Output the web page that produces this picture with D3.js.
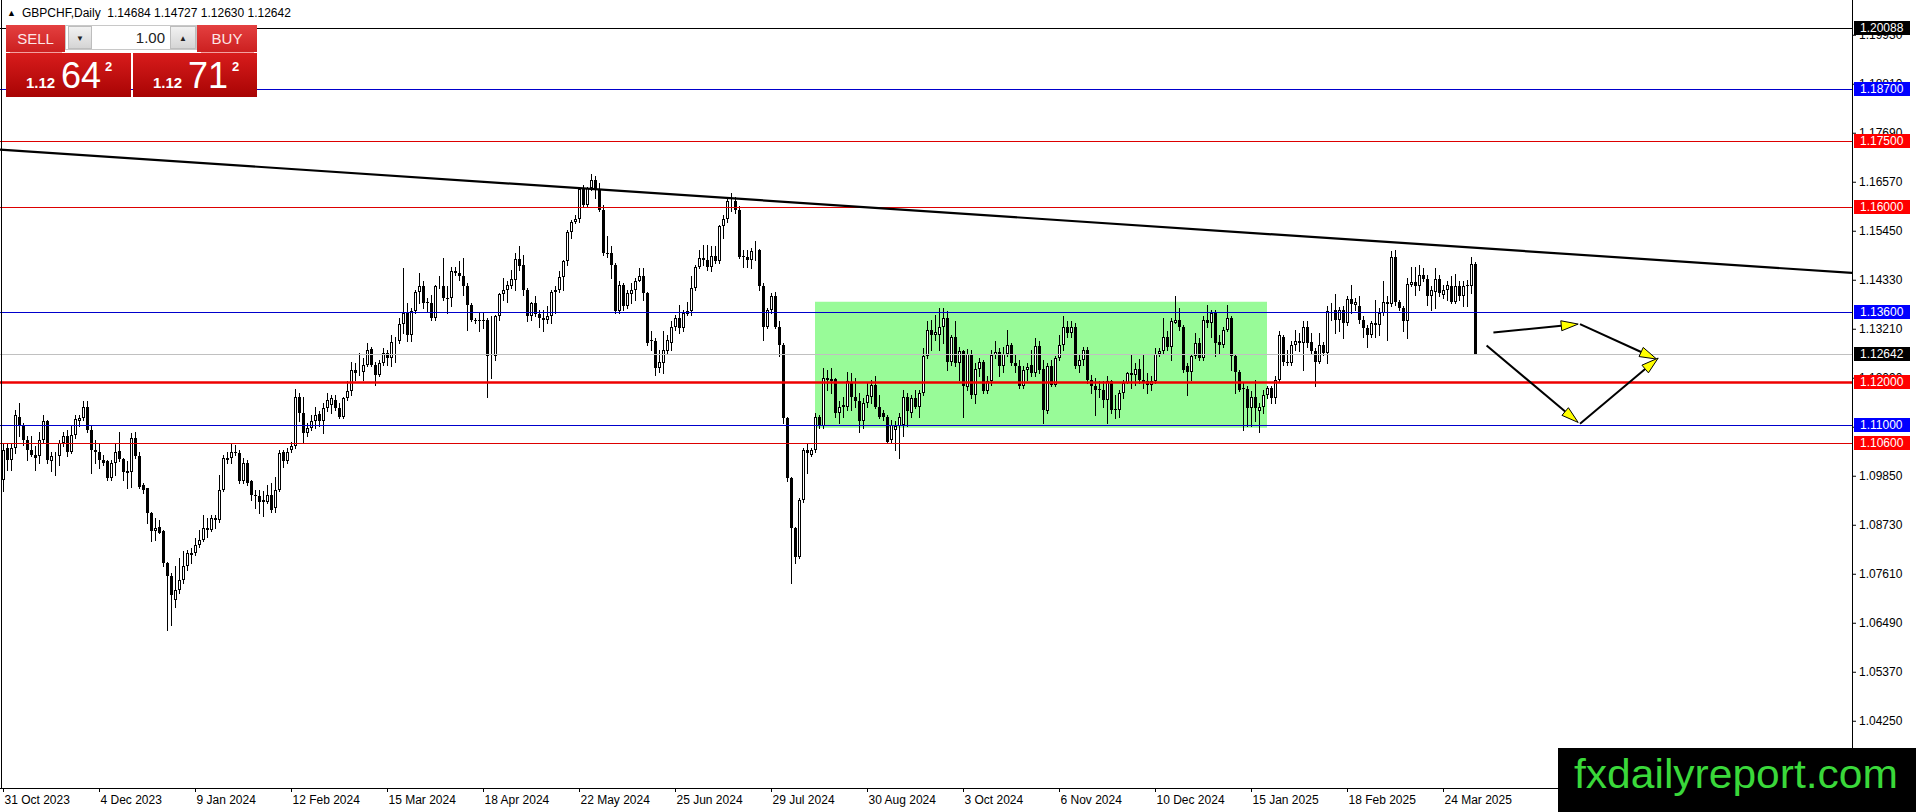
<!DOCTYPE html>
<html>
<head>
<meta charset="utf-8">
<script src="https://cdn.jsdelivr.net/npm/d3@7"></script>
<style>
  body { margin: 0; background: #fff; overflow: hidden; }
  svg { display: block; font-family: "Liberation Sans", Arial, sans-serif; }
</style>
</head>
<body>
<script>
// GBPCHF daily bars, 31 Oct 2023 .. 3 Apr 2025, prices in pips (1e-4)
var openPips = [
  10976,11048,11021,11048,11120,11098,11067,11044,11033,11029,11067,11109,
  11018,11029,11029,11060,11076,11040,11079,11111,11117,11143,11090,11044,
  11040,11021,11018,10980,11014,11042,11023,10995,10993,11071,11031,10964,
  10956,10899,10858,10869,10858,10785,10755,10701,10724,10747,10778,10804,
  10808,10827,10838,10861,10861,10883,10884,10953,11021,11025,11040,11037,
  10972,11014,10972,10941,10938,10926,10926,10941,10911,10953,11040,11018,
  11044,11052,11166,11128,11082,11094,11109,11126,11109,11140,11147,11159,
  11140,11120,11162,11178,11227,11220,11223,11239,11275,11239,11216,11242,
  11265,11254,11290,11292,11332,11357,11307,11361,11406,11418,11381,11380,
  11345,11418,11419,11391,11391,11452,11448,11442,11419,11376,11341,11341,
  11341,11341,11258,11259,11349,11401,11409,11419,11433,11480,11467,11410,
  11349,11380,11355,11345,11341,11349,11404,11409,11439,11475,11543,11566,
  11572,11640,11604,11642,11660,11640,11593,11495,11494,11467,11361,11422,
  11372,11401,11410,11431,11441,11402,11296,11294,11231,11242,11269,11288,
  11324,11345,11322,11355,11361,11414,11462,11482,11479,11462,11488,11475,
  11555,11572,11610,11612,11593,11488,11486,11479,11498,11500,11418,11326,
  11364,11395,11326,11284,11117,10980,10865,10800,10930,11044,11033,11044,
  11120,11098,11208,11201,11206,11128,11143,11143,11197,11166,11155,11109,
  11151,11166,11193,11143,11128,11120,11067,11090,11098,11101,11166,11128,
  11162,11143,11175,11258,11319,11307,11307,11326,11345,11246,11303,11242,
  11269,11188,11264,11170,11229,11246,11178,11201,11262,11267,11235,11264,
  11284,11242,11235,11189,11226,11239,11220,11282,11229,11134,11236,11193,
  11254,11284,11326,11311,11326,11235,11249,11273,11204,11189,11183,11180,
  11159,11201,11137,11136,11175,11198,11220,11216,11229,11204,11201,11193,
  11201,11264,11269,11303,11280,11335,11340,11326,11235,11223,11258,11288,
  11254,11341,11334,11357,11290,11284,11319,11345,11258,11223,11185,11183,
  11140,11166,11132,11143,11170,11185,11162,11204,11303,11246,11242,11284,
  11292,11288,11326,11290,11269,11246,11284,11265,11361,11364,11341,11363,
  11334,11389,11376,11372,11341,11322,11307,11334,11330,11357,11383,11378,
  11485,11383,11368,11338,11422,11427,11418,11444,11434,11395,11406,11434,
  11399,11410,11419,11383,11418,11395,11422,11418,11468.4
];
var highPips = [
  11060,11060,11060,11136,11151,11105,11075,11075,11052,11086,11124,11113,
  11040,11040,11067,11086,11090,11098,11124,11124,11155,11155,11098,11067,
  11060,11033,11021,11021,11060,11086,11025,11018,11082,11084,11040,10968,
  10958,10903,10888,10884,10861,10789,10762,10778,10797,10812,10816,10819,
  10842,10861,10896,10888,10896,10896,10987,11033,11040,11060,11056,11044,
  11025,11021,10976,10953,10953,10949,10964,10968,10983,11044,11044,11048,
  11063,11183,11174,11166,11105,11124,11143,11132,11151,11174,11170,11170,
  11151,11166,11201,11246,11242,11265,11254,11288,11280,11246,11250,11277,
  11273,11307,11303,11345,11460,11380,11368,11410,11448,11429,11391,11399,
  11422,11441,11482,11418,11463,11463,11475,11482,11425,11380,11345,11357,
  11357,11345,11349,11353,11402,11437,11429,11456,11494,11509,11490,11414,
  11383,11395,11364,11364,11372,11410,11418,11452,11479,11547,11570,11582,
  11646,11650,11646,11675,11669,11654,11604,11532,11509,11471,11429,11425,
  11410,11425,11437,11460,11460,11406,11315,11300,11273,11315,11307,11338,
  11353,11376,11364,11383,11441,11467,11501,11513,11513,11509,11509,11559,
  11582,11623,11631,11623,11601,11501,11501,11505,11521,11503,11425,11368,
  11402,11406,11338,11288,11120,10983,10869,10934,11048,11060,11048,11128,
  11124,11231,11227,11231,11208,11155,11166,11223,11220,11208,11174,11162,
  11197,11204,11212,11170,11136,11124,11113,11109,11128,11181,11174,11170,
  11181,11181,11277,11338,11341,11353,11368,11368,11361,11307,11338,11280,
  11273,11274,11273,11242,11254,11250,11212,11273,11292,11277,11280,11319,
  11288,11262,11250,11235,11242,11273,11300,11292,11250,11242,11250,11258,
  11307,11349,11338,11338,11335,11262,11280,11280,11216,11208,11201,11201,
  11212,11204,11170,11181,11204,11223,11262,11242,11252,11262,11220,11212,
  11277,11277,11345,11315,11345,11395,11368,11330,11242,11262,11311,11300,
  11349,11376,11364,11364,11307,11326,11376,11349,11262,11227,11197,11189,
  11178,11204,11151,11181,11189,11189,11212,11315,11307,11273,11292,11319,
  11311,11338,11338,11311,11277,11311,11290,11372,11380,11401,11370,11372,
  11395,11422,11391,11395,11349,11330,11338,11387,11368,11429,11395,11498,
  11501,11387,11372,11437,11463,11463,11467,11460,11444,11418,11460,11444,
  11422,11429,11441,11447,11429,11429,11433,11485,11472.7
];
var lowPips = [
  10949,10999,10999,11037,11075,11056,11021,11029,10999,11014,11060,11014,
  10995,10987,11010,11052,11029,11037,11071,11098,11113,11086,10991,11014,
  11002,11010,10976,10976,10987,11018,10976,10956,10960,11025,10956,10945,
  10877,10835,10838,10854,10778,10633,10644,10686,10717,10739,10770,10785,
  10804,10823,10835,10846,10858,10865,10880,10949,11014,11014,11033,10968,
  10968,10964,10930,10911,10899,10892,10922,10903,10903,10949,11006,11014,
  11040,11048,11109,11060,11075,11090,11094,11098,11082,11132,11128,11136,
  11117,11117,11159,11170,11204,11216,11204,11235,11235,11193,11212,11239,
  11239,11235,11246,11288,11311,11292,11292,11357,11380,11368,11361,11341,
  11341,11414,11387,11357,11372,11444,11433,11399,11319,11338,11334,11315,
  11322,11166,11208,11250,11341,11387,11383,11414,11410,11456,11399,11338,
  11341,11349,11326,11315,11334,11334,11357,11406,11410,11467,11528,11562,
  11566,11601,11601,11639,11620,11589,11490,11486,11437,11357,11357,11364,
  11368,11380,11387,11429,11387,11284,11273,11216,11223,11220,11265,11273,
  11319,11311,11315,11353,11353,11410,11460,11467,11456,11452,11471,11471,
  11528,11566,11589,11585,11482,11463,11463,11460,11479,11410,11296,11322,
  11357,11322,11258,11105,10972,10739,10785,10797,10926,10991,11029,11040,
  11094,11094,11181,11174,11120,11105,11120,11136,11136,11143,11086,11094,
  11143,11151,11140,11117,11113,11060,11060,11044,11025,11075,11098,11120,
  11140,11120,11170,11254,11273,11296,11273,11288,11227,11239,11235,11204,
  11120,11181,11162,11151,11212,11174,11174,11193,11254,11212,11223,11258,
  11239,11223,11185,11185,11204,11212,11212,11220,11105,11128,11189,11189,
  11250,11273,11303,11303,11231,11223,11239,11197,11174,11124,11166,11143,
  11105,11128,11117,11120,11162,11197,11185,11193,11197,11185,11174,11181,
  11197,11258,11265,11273,11250,11334,11319,11223,11170,11204,11254,11250,
  11250,11326,11303,11258,11265,11280,11315,11227,11174,11178,11090,11098,
  11098,11109,11086,11128,11162,11151,11151,11201,11239,11239,11239,11273,
  11269,11227,11280,11265,11189,11242,11262,11242,11341,11311,11315,11300,
  11330,11357,11364,11334,11303,11280,11303,11303,11307,11353,11296,11372,
  11376,11364,11315,11300,11418,11399,11410,11429,11376,11364,11368,11395,
  11391,11387,11380,11380,11387,11372,11372,11402,11263.0
];
var closePips = [
  11044,11021,11048,11124,11098,11067,11044,11033,11025,11067,11109,11021,
  11029,11031,11060,11075,11040,11079,11114,11117,11143,11090,11044,11040,
  11021,11014,10980,11014,11040,11023,10993,10991,11071,11029,10960,10953,
  10899,10858,10865,10855,10785,10755,10713,10724,10747,10778,10808,10808,
  10827,10838,10865,10865,10888,10888,10953,11025,11025,11040,11037,10972,
  11014,10968,10941,10938,10926,10930,10941,10907,10953,11037,11018,11040,
  11053,11166,11128,11082,11094,11109,11124,11109,11140,11159,11162,11140,
  11120,11162,11178,11227,11220,11223,11239,11273,11239,11216,11242,11265,
  11254,11290,11292,11332,11357,11307,11362,11406,11418,11380,11380,11345,
  11418,11419,11391,11389,11452,11448,11442,11419,11376,11340,11338,11339,
  11339,11258,11259,11349,11401,11410,11422,11434,11480,11465,11410,11349,
  11380,11355,11345,11341,11349,11404,11409,11439,11475,11543,11566,11572,
  11640,11604,11642,11660,11640,11593,11494,11492,11467,11361,11422,11372,
  11402,11410,11431,11441,11402,11288,11294,11231,11246,11273,11296,11324,
  11345,11322,11357,11361,11414,11463,11482,11479,11462,11488,11475,11555,
  11572,11612,11612,11593,11486,11485,11479,11498,11500,11418,11326,11364,
  11395,11326,11284,11117,10980,10865,10800,10930,11044,11037,11044,11120,
  11098,11208,11204,11206,11128,11143,11147,11201,11166,11155,11109,11151,
  11170,11193,11143,11120,11120,11063,11101,11098,11120,11166,11132,11162,
  11143,11175,11258,11319,11307,11313,11326,11345,11246,11303,11242,11269,
  11189,11264,11170,11229,11246,11178,11201,11262,11267,11235,11264,11284,
  11242,11235,11189,11227,11233,11220,11282,11227,11136,11236,11193,11254,
  11284,11326,11311,11326,11235,11249,11273,11204,11189,11181,11180,11159,
  11201,11136,11136,11175,11198,11220,11216,11229,11204,11197,11193,11201,
  11264,11269,11303,11280,11338,11340,11326,11227,11223,11258,11288,11254,
  11341,11334,11357,11288,11284,11319,11345,11258,11223,11181,11183,11140,
  11166,11140,11143,11170,11185,11162,11204,11307,11246,11242,11284,11292,
  11288,11326,11288,11269,11246,11284,11265,11361,11364,11341,11363,11334,
  11389,11378,11381,11341,11322,11307,11334,11330,11357,11383,11378,11485,
  11381,11368,11338,11424,11427,11418,11444,11434,11395,11409,11434,11402,
  11410,11422,11383,11419,11395,11419,11418,11470,11264.2
];

var open = openPips.map(function(v) { return v / 1e4; });
var high = highPips.map(function(v) { return v / 1e4; });
var low = lowPips.map(function(v) { return v / 1e4; });
var close = closePips.map(function(v) { return v / 1e4; });

// one date label every 24 bars
var dateLabels = ["31 Oct 2023", "4 Dec 2023", "9 Jan 2024", "12 Feb 2024", "15 Mar 2024",
  "18 Apr 2024", "22 May 2024", "25 Jun 2024", "29 Jul 2024", "30 Aug 2024", "3 Oct 2024",
  "6 Nov 2024", "10 Dec 2024", "15 Jan 2025", "18 Feb 2025", "24 Mar 2025"];
var barsPerLabel = 24;

var priceTicks = [1.04250, 1.05370, 1.06490, 1.07610, 1.08730, 1.09850, 1.10970, 1.12090,
  1.13210, 1.14330, 1.15450, 1.16570, 1.17690, 1.18810, 1.19930];
var priceMin = 1.02713, priceMax = 1.20724;   // visible price window

// horizontal levels drawn on the chart
var levelPrices = [1.20088, 1.18700, 1.17500, 1.16000, 1.13600, 1.12642, 1.12000, 1.11000, 1.10600];
var levelKinds = ["mark", "blue", "red", "red", "blue", "bid", "redBold", "blue", "red"];

// falling trendline, two anchors (bar index, price)
var trendBars = [0, 368];
var trendPrices = [1.1730, 1.1506];

// green range box
var zoneBars = [203, 316];
var zonePrices = [1.13827, 1.10947];

// projected path arrows (bar index, price)
var arrowFrom = [[372.6, 1.13125], [394.25, 1.13317], [370.9, 1.12828], [394.25, 1.11039]];
var arrowTo = [[393.8, 1.13317], [413.4, 1.12517], [393.8, 1.11068], [413.8, 1.12540]];

var symbol = "GBPCHF,Daily";
var askPrice = 1.12712;
var lotSize = "1.00";
var watermark = "fxdailyreport.com";

// ---------------------------------------------------------------
var W = 1916, H = 812;
var plotRight = 1852, plotBottom = 788;
var n = close.length;

var svg = d3.select("body").append("svg")
    .attr("width", W)
    .attr("height", H);

var defs = svg.append("defs");
defs.append("clipPath").attr("id", "plotClip")
  .append("rect").attr("x", 0).attr("y", 0).attr("width", plotRight).attr("height", plotBottom);

var g1 = defs.append("linearGradient").attr("id", "redBox").attr("x1", 0).attr("y1", 0).attr("x2", 0).attr("y2", 1);
g1.append("stop").attr("offset", "0%").attr("stop-color", "#d81c1c");
g1.append("stop").attr("offset", "100%").attr("stop-color", "#a80404");
var g2 = defs.append("linearGradient").attr("id", "redHead").attr("x1", 0).attr("y1", 0).attr("x2", 0).attr("y2", 1);
g2.append("stop").attr("offset", "0%").attr("stop-color", "#e44040");
g2.append("stop").attr("offset", "100%").attr("stop-color", "#cc2020");
var g3 = defs.append("linearGradient").attr("id", "greyBtn").attr("x1", 0).attr("y1", 0).attr("x2", 0).attr("y2", 1);
g3.append("stop").attr("offset", "0%").attr("stop-color", "#f2f2f2");
g3.append("stop").attr("offset", "100%").attr("stop-color", "#d4d4d4");

// scales: 4 px per bar, first bar at x = 3
var x = d3.scaleLinear().domain([0, n - 1]).range([3, 3 + 4 * (n - 1)]);
var y = d3.scaleLinear().domain([priceMin, priceMax]).range([plotBottom, 0]);

var plot = svg.append("g").attr("clip-path", "url(#plotClip)");

// range box (background)
plot.append("rect")
    .attr("x", x(zoneBars[0]))
    .attr("y", y(zonePrices[0]))
    .attr("width", x(zoneBars[1]) - x(zoneBars[0]))
    .attr("height", y(zonePrices[1]) - y(zonePrices[0]))
    .attr("fill", "#98fb98");

// candles
var bars = d3.range(n).map(function(i) {
  return { i: i, o: open[i], h: Math.max(high[i], open[i], close[i]),
           l: Math.min(low[i], open[i], close[i]), c: close[i] };
});

var candles = plot.append("g").attr("shape-rendering", "crispEdges");
candles.selectAll("line")
  .data(bars)
  .join("line")
    .attr("x1", function(d) { return Math.round(x(d.i)) + 0.5; })
    .attr("x2", function(d) { return Math.round(x(d.i)) + 0.5; })
    .attr("y1", function(d) { return Math.round(y(d.h)); })
    .attr("y2", function(d) { return Math.round(y(d.l)) + 1; })
    .attr("stroke", "#000")
    .attr("stroke-width", 1);

candles.selectAll("rect.down")
  .data(bars.filter(function(d) { return d.c < d.o; }))
  .join("rect")
    .attr("class", "down")
    .attr("x", function(d) { return Math.round(x(d.i)) - 1; })
    .attr("y", function(d) { return Math.round(y(d.o)); })
    .attr("width", 3)
    .attr("height", function(d) { return Math.max(1, Math.round(y(d.c)) - Math.round(y(d.o))); })
    .attr("fill", "#000");

candles.selectAll("rect.up")
  .data(bars.filter(function(d) { return d.c >= d.o; }))
  .join("rect")
    .attr("class", "up")
    .attr("x", function(d) { return Math.round(x(d.i)) - 0.5; })
    .attr("y", function(d) { return Math.round(y(d.c)) + 0.5; })
    .attr("width", 2)
    .attr("height", function(d) { return Math.max(0, Math.round(y(d.o)) - Math.round(y(d.c)) - 1); })
    .attr("fill", "#fff")
    .attr("stroke", "#000")
    .attr("stroke-width", 1);

// horizontal levels
var lineColor = { mark: "#000", blue: "#0000cc", red: "#dd0000", redBold: "#ee0000", bid: "#c0c0c0" };
var boxColor = { mark: "#000", blue: "#0000ff", red: "#ff0000", redBold: "#ff0000", bid: "#000" };
var levels = levelPrices.map(function(p, i) { return { p: p, kind: levelKinds[i] }; });

plot.selectAll("line.level")
  .data(levels)
  .join("line")
    .attr("class", "level")
    .attr("x1", 0)
    .attr("x2", plotRight)
    .attr("y1", function(d) { return Math.round(y(d.p)) + 0.5; })
    .attr("y2", function(d) { return Math.round(y(d.p)) + 0.5; })
    .attr("stroke", function(d) { return lineColor[d.kind]; })
    .attr("stroke-width", function(d) { return d.kind === "redBold" ? 2.5 : 1; });

// trendline, extended across the plot
var slope = (trendPrices[1] - trendPrices[0]) / (trendBars[1] - trendBars[0]);
var bL = x.invert(0), bR = x.invert(plotRight);
plot.append("line")
    .attr("x1", x(bL))
    .attr("y1", y(trendPrices[0] + (bL - trendBars[0]) * slope))
    .attr("x2", x(bR))
    .attr("y2", y(trendPrices[0] + (bR - trendBars[0]) * slope))
    .attr("stroke", "#000")
    .attr("stroke-width", 2.2);

// arrows
var arrows = arrowFrom.map(function(a, i) { return { from: a, to: arrowTo[i] }; });
var headLen = 17, headHalf = 5;
arrows.forEach(function(a) {
  var x0 = x(a.from[0]), y0 = y(a.from[1]);
  var x1 = x(a.to[0]), y1 = y(a.to[1]);
  var len = Math.hypot(x1 - x0, y1 - y0);
  var ux = (x1 - x0) / len, uy = (y1 - y0) / len;
  var bx = x1 - ux * headLen, by = y1 - uy * headLen;
  plot.append("line")
      .attr("x1", x0).attr("y1", y0)
      .attr("x2", bx).attr("y2", by)
      .attr("stroke", "#000")
      .attr("stroke-width", 2);
  plot.append("path")
      .attr("d", "M" + x1 + "," + y1 +
                 "L" + (bx - uy * headHalf) + "," + (by + ux * headHalf) +
                 "L" + (bx + uy * headHalf) + "," + (by - ux * headHalf) + "Z")
      .attr("fill", "#ffff00")
      .attr("stroke", "#000")
      .attr("stroke-width", 1);
});

// frame and axes
svg.append("line")
    .attr("x1", 1.5).attr("x2", 1.5).attr("y1", 0).attr("y2", plotBottom)
    .attr("stroke", "#000");

var yAxis = d3.axisRight(y)
    .tickValues(priceTicks)
    .tickSize(4)
    .tickSizeOuter(0)
    .tickFormat(d3.format(".5f"));

var yAxisG = svg.append("g")
    .attr("transform", "translate(" + plotRight + ",0)")
    .call(yAxis)
    .attr("font-family", null)
    .attr("font-size", 12);
yAxisG.select(".domain").attr("d", "M0.5,0V" + plotBottom);
yAxisG.selectAll("text").attr("x", 7).attr("fill", "#000");

var xAxis = d3.axisBottom(x)
    .tickValues(dateLabels.map(function(d, i) { return i * barsPerLabel; }))
    .tickSize(4)
    .tickFormat(function(d, i) { return dateLabels[i]; });

var xAxisG = svg.append("g")
    .attr("transform", "translate(0," + plotBottom + ")")
    .call(xAxis)
    .attr("font-family", null)
    .attr("font-size", 12);
xAxisG.select(".domain").remove();
xAxisG.selectAll("text").attr("text-anchor", "start").attr("x", 1).attr("fill", "#000");
svg.append("line")
    .attr("x1", 0).attr("x2", plotRight + 1)
    .attr("y1", plotBottom + 0.5).attr("y2", plotBottom + 0.5)
    .attr("stroke", "#000");

// price labels for the levels
var tags = svg.append("g").selectAll("g")
  .data(levels)
  .join("g")
    .attr("transform", function(d) { return "translate(" + (plotRight + 2) + "," + Math.round(y(d.p)) + ")"; });
tags.append("rect")
    .attr("x", 0).attr("y", -7)
    .attr("width", 56).attr("height", 14)
    .attr("fill", function(d) { return boxColor[d.kind]; });
tags.append("text")
    .attr("x", 6).attr("dy", "0.36em")
    .attr("font-size", 12)
    .attr("fill", "#fff")
    .text(function(d) { return d3.format(".5f")(d.p); });

// title
var last = n - 1;
svg.append("text")
    .attr("x", 7).attr("y", 16)
    .attr("font-size", 9)
    .text("\u25B2");
svg.append("text")
    .attr("x", 22).attr("y", 17)
    .attr("font-size", 12)
    .style("white-space", "pre")
    .text(symbol + "  " + [open[last], high[last], low[last], close[last]].map(d3.format(".5f")).join(" "));

// one-click trading panel
var panel = svg.append("g");
var bid = close[last];
function quoteParts(v) {
  var s = v.toFixed(5);
  return [s.slice(0, 4), s.slice(4, 6), s.slice(6)];
}
[{ x: 6, w: 125, label: "SELL", hx: 6, hw: 59, q: quoteParts(bid) },
 { x: 133, w: 124, label: "BUY", hx: 197, hw: 60, q: quoteParts(askPrice) }].forEach(function(b) {
  panel.append("rect").attr("x", b.hx).attr("y", 25).attr("width", b.hw).attr("height", 27)
      .attr("fill", "url(#redHead)");
  panel.append("line").attr("x1", b.hx + 4).attr("x2", b.hx + b.hw - 3).attr("y1", 52.5).attr("y2", 52.5)
      .attr("stroke", "#f3a0a0");
  panel.append("text").attr("x", b.hx + b.hw / 2).attr("y", 44).attr("text-anchor", "middle")
      .attr("font-size", 15).attr("fill", "#fde6e6").text(b.label);
  panel.append("rect").attr("x", b.x).attr("y", 53).attr("width", b.w).attr("height", 44)
      .attr("fill", "url(#redBox)");
  panel.append("text").attr("x", b.x + 20).attr("y", 88)
      .attr("font-size", 15).attr("font-weight", "bold").attr("fill", "#fff").text(b.q[0]);
  panel.append("text").attr("x", b.x + 55).attr("y", 88)
      .attr("font-size", 36).attr("fill", "#fff").text(b.q[1]);
  panel.append("text").attr("x", b.x + 99).attr("y", 71)
      .attr("font-size", 13).attr("font-weight", "bold").attr("fill", "#fff").text(b.q[2]);
});
// lot spinner
panel.append("rect").attr("x", 65.5).attr("y", 25.5).attr("width", 131).attr("height", 24)
    .attr("fill", "#fff").attr("stroke", "#c8c8c8");
panel.append("rect").attr("x", 68.5).attr("y", 26.5).attr("width", 23).attr("height", 22)
    .attr("fill", "url(#greyBtn)").attr("stroke", "#bdbdbd");
panel.append("rect").attr("x", 170.5).attr("y", 26.5).attr("width", 25).attr("height", 22)
    .attr("fill", "url(#greyBtn)").attr("stroke", "#bdbdbd");
panel.append("text").attr("x", 80).attr("y", 41).attr("text-anchor", "middle")
    .attr("font-size", 8).attr("fill", "#222").text("\u25BC");
panel.append("text").attr("x", 183).attr("y", 41).attr("text-anchor", "middle")
    .attr("font-size", 8).attr("fill", "#222").text("\u25B2");
panel.append("text").attr("x", 165).attr("y", 43).attr("text-anchor", "end")
    .attr("font-size", 15).attr("fill", "#222").text(lotSize);

// watermark
svg.append("rect").attr("x", 1558).attr("y", 748).attr("width", 358).attr("height", 64).attr("fill", "#000");
svg.append("text")
    .attr("x", 1574).attr("y", 788)
    .attr("font-size", 40)
    .attr("textLength", 324)
    .attr("lengthAdjust", "spacingAndGlyphs")
    .attr("fill", "#3ad83a")
    .text(watermark);
</script>
</body>
</html>
